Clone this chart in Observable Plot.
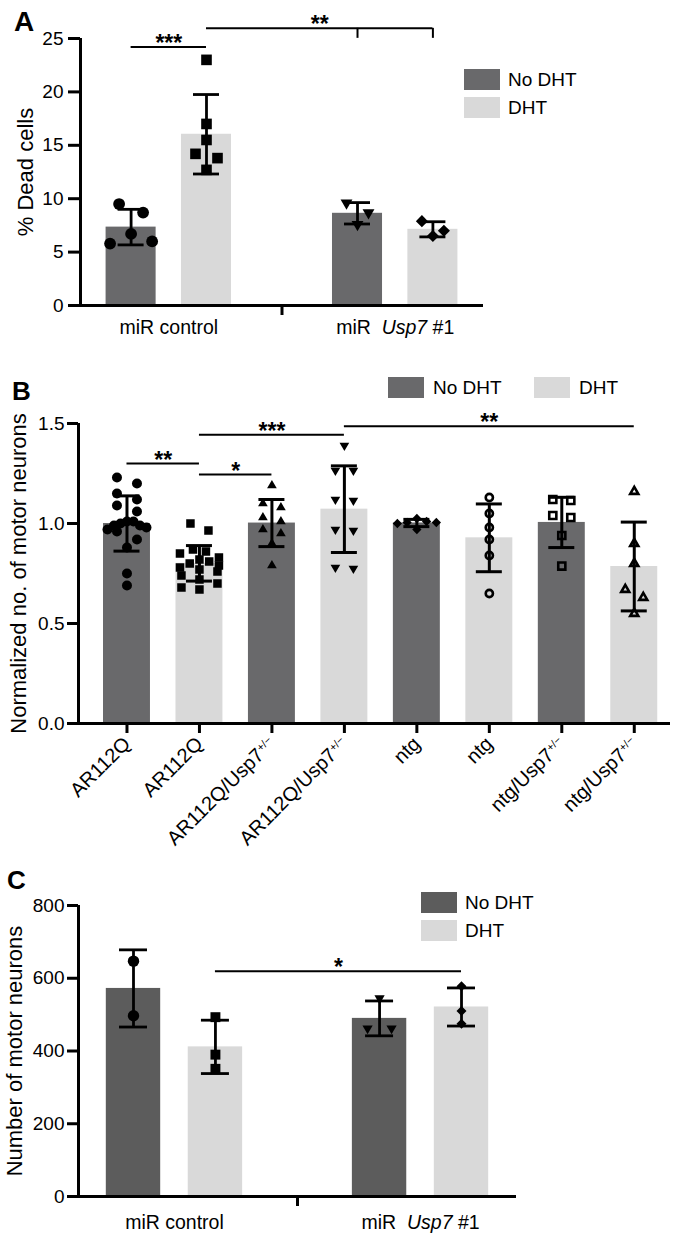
<!DOCTYPE html>
<html><head><meta charset="utf-8">
<script src="https://cdn.jsdelivr.net/npm/d3@7"></script>
<script src="https://cdn.jsdelivr.net/npm/@observablehq/plot@0.6"></script>
<style>
body{margin:0;background:#fff;}
#root{position:relative;width:678px;height:1243px;font-family:"Liberation Sans",Arial,Helvetica,sans-serif;color:#000;overflow:hidden;background:#fff}
.sw{position:absolute}
.lg{position:absolute;font-size:19px;line-height:21px;white-space:nowrap}
.letter{position:absolute;font-weight:bold;line-height:1}
</style></head><body><div id="root"></div>
<script>
// ---------------- DATA ----------------
const treatments = ["No DHT", "DHT"];
const groupsAC = ["miR control", "miR Usp7 #1"];

// Panel A: % dead cells
const aCtrlNoDHT = [9.5, 8.7, 6.7, 6.0, 5.8];
const aCtrlDHT = [23.0, 17.0, 15.5, 14.2, 13.8, 12.7];
const aUspNoDHT = [9.6, 8.7, 7.6];
const aUspDHT = [7.9, 7.0, 6.5];
const aYTicks = [0, 5, 10, 15, 20, 25];
const aBrackets = [
  {from: [0, 0], to: [0, 1], y: 24.2, label: "***", drops: []},
  {from: [0, 1], to: [1, 1], y: 25.95, label: "**", drops: [[1, 0], [1, 1]]}
];

// Panel B: normalized no. of motor neurons
const bLabels = ["AR112Q", "AR112Q", "AR112Q/Usp7+/-", "AR112Q/Usp7+/-", "ntg", "ntg", "ntg/Usp7+/-", "ntg/Usp7+/-"];
const bTreatment = ["No DHT", "DHT", "No DHT", "DHT", "No DHT", "DHT", "No DHT", "DHT"];
const bARNo = [1.23, 1.20, 1.15, 1.12, 1.09, 1.06, 1.01, 1.01, 1.00, 0.99, 0.99, 0.98, 0.97, 0.96, 0.92, 0.88, 0.75, 0.69];
const bARDHT = [1.00, 0.965, 0.87, 0.86, 0.85, 0.83, 0.82, 0.81, 0.80, 0.79, 0.78, 0.77, 0.76, 0.74, 0.72, 0.70, 0.68, 0.67];
const bARUspNo = [1.19, 1.10, 1.08, 1.03, 1.01, 0.97, 0.95, 0.90, 0.79];
const bARUspDHT = [1.39, 1.265, 1.265, 1.12, 1.115, 0.97, 0.965, 0.78, 0.775];
const bNtgNo = [1.025, 1.01, 1.005, 1.005, 1.0, 0.97];
const bNtgDHT = [1.13, 1.05, 0.98, 0.92, 0.84, 0.65];
const bNtgUspNo = [1.12, 1.115, 1.04, 1.03, 0.94, 0.787];
const bNtgUspDHT = [1.16, 0.90, 0.80, 0.67, 0.63, 0.55];
const bYTicks = [0, 0.5, 1.0, 1.5];
const bBrackets = [
  {from: 0, to: 1, y: 1.30, label: "**"},
  {from: 1, to: 2, y: 1.245, label: "*"},
  {from: 1, to: 3, y: 1.4435, label: "***"},
  {from: 3, to: 7, y: 1.4865, label: "**"}
];

// Panel C: number of motor neurons
const cCtrlNoDHT = [647, 497];
const cCtrlDHT = [493, 390, 351];
const cUspNoDHT = [545, 462, 462];
const cUspDHT = [578, 510, 475];
const cYTicks = [0, 200, 400, 600, 800];
const cBrackets = [{from: [0, 1], to: [1, 1], y: 619, label: "*", drops: []}];

// ---------------- STYLE ----------------
const W = 678;
const FONT = '"Liberation Sans", Arial, Helvetica, sans-serif';
const DARK_AB = "#69696b", DARK_C = "#5c5c5c", LIGHT = "#d9d9d9";
const S3 = Math.sqrt(3);
const triDown = {draw(ctx, size) { const k = Math.sqrt(size / (S3 * 3)); ctx.moveTo(0, 2 * k); ctx.lineTo(-S3 * k, -k); ctx.lineTo(S3 * k, -k); ctx.closePath(); }};
const diamondSq = {draw(ctx, size) { const h = Math.sqrt(size) / Math.SQRT2; ctx.moveTo(0, -h); ctx.lineTo(h, 0); ctx.lineTo(0, h); ctx.lineTo(-h, 0); ctx.closePath(); }};

const root = document.getElementById("root");

// Prism-like row layout of scatter points (horizontal spread of near-equal values)
function rowLayout(values, pxY, d, maxSpan) {
  const idx = d3.range(values.length).sort((a, b) => values[b] - values[a]);
  const rows = []; let cur = null;
  for (const i of idx) {
    if (cur && (values[cur[0]] - values[i]) * pxY < d) cur.push(i);
    else { cur = [i]; rows.push(cur); }
  }
  const off = new Array(values.length).fill(0);
  for (const row of rows) {
    const k = row.length; if (k === 1) continue;
    const sp = Math.min(d * 2, maxSpan / (k - 1));
    row.forEach((i, j) => {
      let slot;
      if (k % 2) slot = j === 0 ? 0 : (j % 2 ? 1 : -1) * Math.ceil(j / 2);
      else slot = (j % 2 ? 1 : -1) * (Math.floor(j / 2) + 0.5);
      off[i] = slot * sp;
    });
  }
  return off;
}

function place(svg, top) {
  svg.style.position = "absolute"; svg.style.left = "0px"; svg.style.top = top + "px";
  root.appendChild(svg);
}

function fixLabels(svg) {
  d3.select(svg).selectAll("text").each(function() {
    const t = d3.select(this); const s = t.text();
    if (s === "miR Usp7 #1") {
      t.text(null);
      t.append("tspan").text("miR\u00a0\u00a0");
      t.append("tspan").attr("font-style", "italic").text("Usp7");
      t.append("tspan").text("\u00a0#1");
    } else if (s.endsWith("+/-")) {
      t.text(null);
      t.append("tspan").text(s.slice(0, -3));
      t.append("tspan").attr("dy", "-0.55em").attr("font-size", "0.55em").text("+/\u2212");
    }
  });
}

function legend(x, y, vertical, gap, dark, textGap) {
  treatments.forEach((name, i) => {
    const sx = vertical ? x : x + i * gap, sy = vertical ? y + i * gap : y;
    const sw = document.createElement("div"); sw.className = "sw";
    Object.assign(sw.style, {left: sx + "px", top: sy + "px", width: "36px", height: "21px", background: i ? LIGHT : dark});
    root.appendChild(sw);
    const tx = document.createElement("div"); tx.className = "lg";
    Object.assign(tx.style, {left: (sx + textGap) + "px", top: sy + "px"});
    tx.textContent = name; root.appendChild(tx);
  });
}

function letter(ch, x, y, size) {
  const el = document.createElement("div"); el.className = "letter";
  Object.assign(el.style, {left: x + "px", top: y + "px", fontSize: size + "px"});
  el.textContent = ch; root.appendChild(el);
}

function bracketMarks(brs, pxY, dropPx) {
  const marks = [];
  marks.push(Plot.ruleY(brs, {y: "y", x1: "x1", x2: "x2", strokeWidth: 2}));
  const drops = brs.flatMap(b => b.dropsX.map(x => ({x, y: b.y})));
  if (drops.length) marks.push(Plot.ruleX(drops, {x: "x", y1: d => d.y - dropPx / pxY, y2: "y", strokeWidth: 2}));
  marks.push(Plot.text(brs, {x: d => (d.x1 + d.x2) / 2, y: "y", text: "label", lineAnchor: "bottom", dy: 4, fontSize: 23, fontWeight: "bold"}));
  return marks;
}

// ---------------- Panels A and C ----------------
function makeAC(cfg) {
  const xDom = [-0.39, 1.39];
  const pxX = (W - cfg.mL - cfg.mR) / (xDom[1] - xDom[0]);
  const pxY = (cfg.height - cfg.mT - cfg.mB) / cfg.yMax;
  const pos = (g, s) => g + (s - 0.5) * 0.333;
  const half = 0.1105;
  const barPx = 2 * half * pxX;
  const stats = cfg.sets.map(st => ({x: pos(st.g, st.s), mean: d3.mean(st.values), sd: d3.deviation(st.values), s: st.s}));
  const marks = [];
  for (const s of [0, 1]) marks.push(Plot.rectY(stats.filter(d => d.s === s), {x1: d => d.x - half, x2: d => d.x + half, y: "mean", fill: s ? LIGHT : cfg.dark}));
  for (const st of cfg.sets) {
    const off = rowLayout(st.values, pxY, st.d, barPx - 8);
    const pts = st.values.map((v, i) => ({x: pos(st.g, st.s) + off[i] / pxX, y: v}));
    marks.push(Plot.dot(pts, {x: "x", y: "y", symbol: st.symbol, r: st.r, fill: "black", stroke: "none"}));
  }
  const cap = cfg.capPx / pxX;
  marks.push(Plot.ruleX(stats, {x: "x", y1: d => d.mean - d.sd, y2: d => d.mean + d.sd, strokeWidth: 2.8}));
  marks.push(Plot.ruleY(stats, {y: d => d.mean + d.sd, x1: d => d.x - cap, x2: d => d.x + cap, strokeWidth: 2.8}));
  marks.push(Plot.ruleY(stats, {y: d => d.mean - d.sd, x1: d => d.x - cap, x2: d => d.x + cap, strokeWidth: 2.8}));
  marks.push(Plot.ruleY([0], {strokeWidth: 3}));
  marks.push(Plot.ruleX([xDom[0]], {y1: 0, y2: cfg.yMax, strokeWidth: 3}));
  marks.push(Plot.axisY({ticks: cfg.yTicks, tickSize: cfg.tickLen, tickPadding: cfg.tickPad, strokeWidth: 3, label: null, fontSize: 19}));
  marks.push(Plot.axisX({ticks: [0, 1], tickSize: 0, tickPadding: cfg.labelPad, tickFormat: i => groupsAC[i], label: null, fontSize: 19.5}));
  marks.push(Plot.axisX({ticks: [0.5], tickSize: 10, tickFormat: () => "", strokeWidth: 3, label: null}));
  marks.push(Plot.text([cfg.yLabel], {text: d => d, frameAnchor: "left", textAnchor: "middle", lineAnchor: "middle", rotate: -90, dx: cfg.titleDx, fontSize: 22}));
  const brs = cfg.brackets.map(b => ({y: b.y, label: b.label, x1: pos(...b.from), x2: pos(...b.to), dropsX: b.drops.map(p => pos(...p))}));
  marks.push(...bracketMarks(brs, pxY, 10));
  const svg = Plot.plot({
    width: W, height: cfg.height, marginTop: cfg.mT, marginBottom: cfg.mB, marginLeft: cfg.mL, marginRight: cfg.mR,
    x: {type: "linear", domain: xDom}, y: {type: "linear", domain: [0, cfg.yMax]},
    style: {fontFamily: FONT, fontSize: "19px", color: "#000", background: "transparent", overflow: "visible"},
    marks
  });
  fixLabels(svg);
  place(svg, cfg.top);
}

makeAC({
  top: 0, height: 345, mT: 38, mB: 40, mL: 80, mR: 195, yMax: 25, yTicks: aYTicks,
  yLabel: "% Dead cells", titleDx: -55, dark: DARK_AB, capPx: 13, tickLen: 12, tickPad: 5, labelPad: 15,
  brackets: aBrackets,
  sets: [
    {g: 0, s: 0, values: aCtrlNoDHT, symbol: "circle", r: 5.9, d: 12},
    {g: 0, s: 1, values: aCtrlDHT, symbol: "square", r: 6.0, d: 11},
    {g: 1, s: 0, values: aUspNoDHT, symbol: triDown, r: 4.4, d: 11},
    {g: 1, s: 1, values: aUspDHT, symbol: diamondSq, r: 4.8, d: 11}
  ]
});

// ---------------- Panel B ----------------
(function makeB() {
  const top = 345, height = 525, mT = 78, mB = 147, mL = 78, mR = 8;
  const xDom = [-0.669, 7.5];
  const pxX = (W - mL - mR) / (xDom[1] - xDom[0]);
  const pxY = (height - mT - mB) / 1.5;
  const half = 0.324;
  const barPx = 2 * half * pxX;
  const sets = [
    {values: bARNo, symbol: "circle", r: 5.0, d: 10, open: false},
    {values: bARDHT, symbol: "square", r: 4.8, d: 9, open: false},
    {values: bARUspNo, symbol: "triangle", r: 3.6, d: 9, open: false},
    {values: bARUspDHT, symbol: triDown, r: 3.6, d: 9, open: false},
    {values: bNtgNo, symbol: diamondSq, r: 3.7, d: 9, open: false},
    {values: bNtgDHT, symbol: "circle", r: 3.6, d: 9, open: true},
    {values: bNtgUspNo, symbol: "square", r: 4.0, d: 9, open: true},
    {values: bNtgUspDHT, symbol: "triangle", r: 3.0, d: 9, open: true}
  ];
  const stats = sets.map((st, i) => ({x: i, mean: d3.mean(st.values), sd: d3.deviation(st.values), t: bTreatment[i]}));
  const marks = [];
  for (const t of treatments) marks.push(Plot.rectY(stats.filter(d => d.t === t), {x1: d => d.x - half, x2: d => d.x + half, y: "mean", fill: t === "DHT" ? LIGHT : DARK_AB}));
  sets.forEach((st, gi) => {
    const off = rowLayout(st.values, pxY, st.d, barPx - 8);
    const pts = st.values.map((v, i) => ({x: gi + off[i] / pxX, y: v}));
    marks.push(Plot.dot(pts, st.open
      ? {x: "x", y: "y", symbol: st.symbol, r: st.r, fill: "none", stroke: "black", strokeWidth: 2.6}
      : {x: "x", y: "y", symbol: st.symbol, r: st.r, fill: "black", stroke: "none"}));
  });
  const cap = 13 / pxX;
  marks.push(Plot.ruleX(stats, {x: "x", y1: d => d.mean - d.sd, y2: d => d.mean + d.sd, strokeWidth: 3}));
  marks.push(Plot.ruleY(stats, {y: d => d.mean + d.sd, x1: d => d.x - cap, x2: d => d.x + cap, strokeWidth: 3}));
  marks.push(Plot.ruleY(stats, {y: d => d.mean - d.sd, x1: d => d.x - cap, x2: d => d.x + cap, strokeWidth: 3}));
  marks.push(Plot.ruleY([0], {strokeWidth: 3}));
  marks.push(Plot.ruleX([xDom[0]], {y1: 0, y2: 1.5, strokeWidth: 3}));
  marks.push(Plot.axisY({ticks: bYTicks, tickSize: 11, tickPadding: 3, tickFormat: d3.format(".1f"), strokeWidth: 3, label: null, fontSize: 19}));
  marks.push(Plot.axisX({ticks: d3.range(bLabels.length), tickSize: 10, tickPadding: 7, tickRotate: -45, tickFormat: i => bLabels[i], strokeWidth: 3, label: null, fontSize: 20}));
  marks.push(Plot.text(["Normalized no. of motor neurons"], {text: d => d, frameAnchor: "left", textAnchor: "middle", lineAnchor: "middle", rotate: -90, dx: -59.5, fontSize: 22}));
  const brs = bBrackets.map(b => ({y: b.y, label: b.label, x1: b.from, x2: b.to, dropsX: []}));
  marks.push(...bracketMarks(brs, pxY, 10));
  const svg = Plot.plot({
    width: W, height, marginTop: mT, marginBottom: mB, marginLeft: mL, marginRight: mR,
    x: {type: "linear", domain: xDom}, y: {type: "linear", domain: [0, 1.5]},
    style: {fontFamily: FONT, fontSize: "19px", color: "#000", background: "transparent", overflow: "visible"},
    marks
  });
  fixLabels(svg);
  place(svg, top);
})();

// ---------------- Panel C ----------------
makeAC({
  top: 870, height: 373, mT: 35, mB: 47, mL: 78, mR: 162, yMax: 800, yTicks: cYTicks,
  yLabel: "Number of motor neurons", titleDx: -64, dark: DARK_C, capPx: 14, tickLen: 11, tickPad: 3, labelPad: 19,
  brackets: cBrackets,
  sets: [
    {g: 0, s: 0, values: cCtrlNoDHT, symbol: "circle", r: 5.7, d: 12},
    {g: 0, s: 1, values: cCtrlDHT, symbol: "square", r: 5.6, d: 12},
    {g: 1, s: 0, values: cUspNoDHT, symbol: triDown, r: 3.8, d: 12},
    {g: 1, s: 1, values: cUspDHT, symbol: diamondSq, r: 4.0, d: 12}
  ]
});

// ---------------- Legends & panel letters ----------------
legend(464, 69, true, 28, DARK_AB, 44);
legend(388, 377, false, 146, DARK_AB, 45);
legend(421, 892, true, 28, DARK_C, 44);
letter("A", 14, 8, 28);
letter("B", 12, 378, 26);
letter("C", 7, 867, 26);
</script></body></html>
